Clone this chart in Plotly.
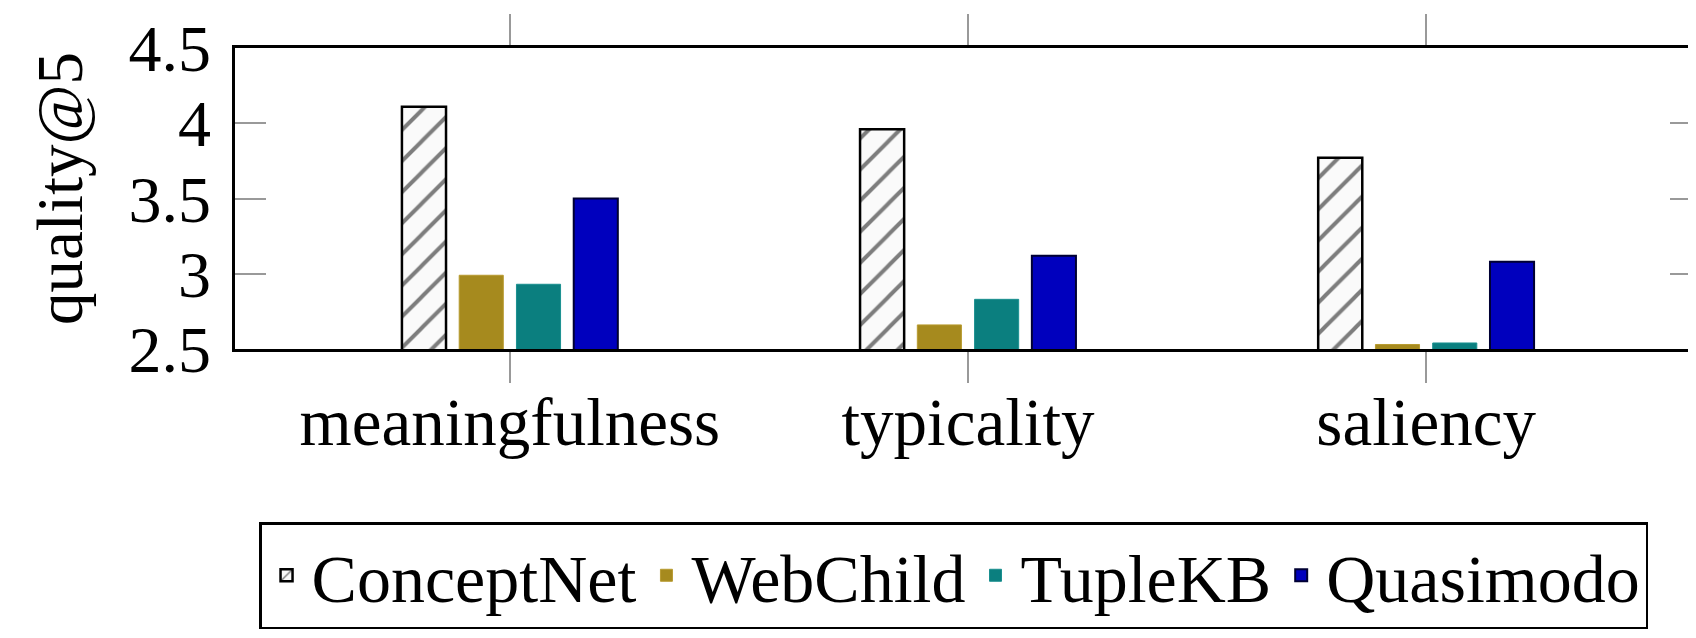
import plotly.graph_objects as go

categories = ["meaningfulness", "typicality", "saliency"]
conceptnet = [4.11, 3.96, 3.77]
webchild = [2.99, 2.66, 2.53]
tuplekb = [2.93, 2.83, 2.54]
quasimodo = [3.50, 3.12, 3.08]
y_ticks = [2.5, 3, 3.5, 4, 4.5]
y_tick_text = ["2.5", "3", "3.5", "4", "4.5"]

FONT = "Liberation Serif, Times New Roman, serif"
W, H = 1696, 638
ML, MR, MT, MB = 227, 3, 40, 297
PH = H - MT - MB
PW = W - ML - MR

fig = go.Figure()
fig.add_trace(go.Bar(
    name="ConceptNet", x=categories, y=conceptnet,
    marker=dict(color="white", line=dict(color="black", width=2.5),
                pattern=dict(shape="/", fgcolor="#000000", bgcolor="#fafafa",
                             size=22, solidity=0.18)),
))
fig.add_trace(go.Bar(
    name="WebChild", x=categories, y=webchild,
    marker=dict(color="#A68A1E", line=dict(color="#B89B30", width=1)),
))
fig.add_trace(go.Bar(
    name="TupleKB", x=categories, y=tuplekb,
    marker=dict(color="#0B7F7F", line=dict(color="#1A9090", width=1)),
))
fig.add_trace(go.Bar(
    name="Quasimodo", x=categories, y=quasimodo,
    marker=dict(color="#0000BE", line=dict(color="#000033", width=2)),
))

fig.update_layout(
    width=W, height=H,
    margin=dict(l=ML, r=MR, t=MT, b=MB, autoexpand=False),
    barmode="group", bargap=0.5, bargroupgap=0.23,
    plot_bgcolor="white", paper_bgcolor="white",
    font=dict(family=FONT, color="black", size=66),
    showlegend=True,
    legend=dict(
        orientation="h", x=0.0164, y=-0.575, xanchor="left", yanchor="top",
        bordercolor="black", borderwidth=2.5, bgcolor="white",
        font=dict(family=FONT, size=68, color="black"),
        traceorder="normal", itemwidth=40,
    ),
    annotations=[dict(
        text="quality@5", textangle=-90, showarrow=False,
        xref="paper", yref="paper",
        x=(52 - ML) / PW, y=(H - MB - 181) / PH,
        xanchor="center", yanchor="middle",
        font=dict(family=FONT, size=65, color="black"),
    )],
)
fig.update_xaxes(
    range=[-0.6, 2.6], showline=True, linecolor="black", linewidth=2.5,
    mirror="ticks", ticks="outside", ticklen=31, tickwidth=1.5, tickcolor="#999999",
    showgrid=False, tickfont=dict(family=FONT, size=67),
    ticklabelstandoff=-18,
)
fig.update_yaxes(
    range=[2.5, 4.5], tickvals=y_ticks, ticktext=y_tick_text,
    showline=True, linecolor="black", linewidth=2.5,
    mirror="ticks", ticks="inside", ticklen=31, tickwidth=1.5, tickcolor="#999999",
    showgrid=False, zeroline=False, tickfont=dict(family=FONT, size=66),
    ticklabelstandoff=8,
)

fig.write_html("out.html")
